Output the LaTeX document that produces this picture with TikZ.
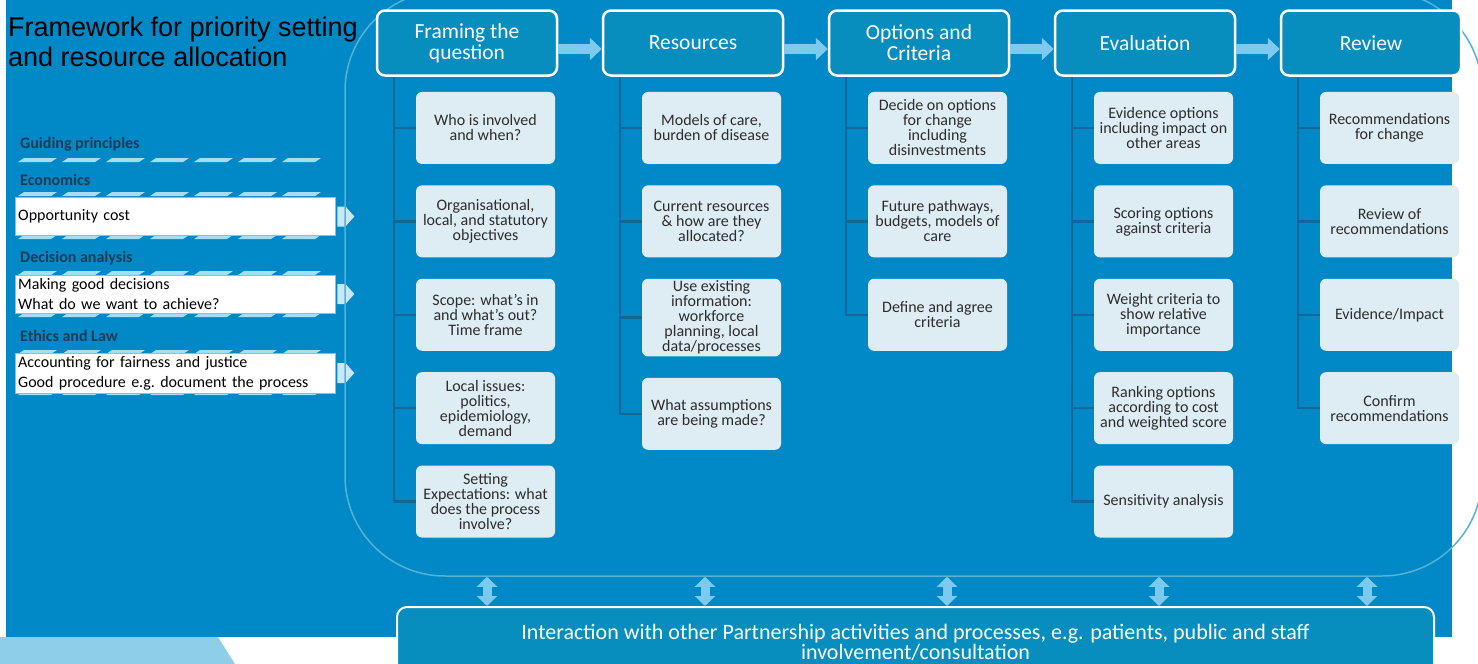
\documentclass[tikz,border=0pt]{standalone}
\usepackage{fontspec}
\setmainfont{Carlito}
\newfontfamily\titlefont{Liberation Sans}
\usetikzlibrary{positioning,arrows.meta}
\definecolor{bgblue}{RGB}{0,137,198}
\definecolor{headblue}{RGB}{8,142,190}
\definecolor{subfill}{RGB}{222,236,244}
\definecolor{subtext}{RGB}{45,45,45}
\definecolor{treeblue}{RGB}{16,104,152}
\definecolor{arrowblue}{RGB}{125,202,240}
\definecolor{frameline}{RGB}{85,178,215}
\definecolor{labelink}{RGB}{28,58,86}
\definecolor{paleblue}{RGB}{142,206,232}
\definecolor{dashblue}{RGB}{165,221,245}
\tikzset{
  header/.style={draw=white, line width=2.5pt, fill=headblue, rounded corners=8pt,
    minimum width=180pt, minimum height=65pt, align=center, text=white,
    font=\fontsize{21.5}{21}\selectfont},
  subbox/.style={fill=subfill, rounded corners=6pt, minimum width=139pt,
    minimum height=72pt, align=center, text=subtext, inner sep=2pt,
    font=\fontsize{16}{15}\selectfont},
  flow/.style={arrowblue, line width=10pt, -{Triangle[length=12pt,width=22pt]}},
  updown/.style={arrowblue, line width=9pt,
    {Triangle[length=10pt,width=20pt]}-{Triangle[length=10pt,width=20pt]}},
  tree/.style={treeblue, line width=2.5pt},
  loopframe/.style={draw=frameline, line width=1.5pt, rounded corners=100pt},
  principle/.style={anchor=west, inner sep=0pt, text=labelink,
    font=\bfseries\fontsize{16}{15}\selectfont},
  notebox/.style={draw=gray!60, fill=white, anchor=west, align=left,
    text width=314pt, inner xsep=3pt, minimum height=38pt,
    font=\fontsize{16}{20}\selectfont},
  chevron/.style={fill={rgb,255:red,200;green,232;blue,247}}
}
\begin{document}
\begin{tikzpicture}[x=1pt,y=-1pt]
  \useasboundingbox (0,0) rectangle (1478,664);
  \fill[bgblue] (6,0) rectangle (1452,637);
  \fill[paleblue] (0,637) -- (218,637) -- (235,664) -- (0,664) -- cycle;

  \node[anchor=north west, align=left, inner sep=0pt,
    font=\titlefont\fontsize{27}{30}\selectfont] (title) at (8,17)
    {Framework for priority setting\\and resource allocation};

  \node[principle] (guide) at (20,144) {Guiding principles};
  \node[principle] (econ) at (20,180) {Economics};
  \node[principle] (decn) at (20,258) {Decision analysis};
  \node[principle] (ethic) at (20,336) {Ethics and Law};
  \foreach \y in {160,194,237,273,315,352,393}
    \foreach \i in {0,...,6}
      \fill[dashblue] ({18+44*\i},\y+2) -- ++(33,0) -- ++(6,-4) -- ++(-33,0) -- cycle;
  \node[notebox] (opp) at (15,216.5) {Opportunity cost};
  \node[notebox] (good) at (15,294) {Making good decisions\\What do we want to achieve?};
  \node[notebox] (fair) at (15,373) {Accounting for fairness and justice\\Good procedure e.g.\ document the process};
  \foreach \b in {opp,good,fair}
    \fill[chevron] ([xshift=2pt]\b.east) ++(0,-10) -- ++(8,0) -- ++(9,10) -- ++(-9,10) -- ++(-8,0) -- cycle;

  \node[loopframe, minimum width=1137pt, minimum height=585pt] (loop) at (913.5,283.5) {};

  \node[header] (qn) at (467,43) {Framing the\\question};
  \node[header, right=43.5pt of qn] (res) {Resources};
  \node[header, right=43.5pt of res] (opt) {Options and\\Criteria};
  \node[header, right=43.5pt of opt] (evl) {Evaluation};
  \node[header, right=43.5pt of evl] (rev) {Review};
  \draw[flow] ([yshift=-6pt]qn.east) -- ([yshift=-6pt]res.west);
  \draw[flow] ([yshift=-6pt]res.east) -- ([yshift=-6pt]opt.west);
  \draw[flow] ([yshift=-6pt]opt.east) -- ([yshift=-6pt]evl.west);
  \draw[flow] ([yshift=-6pt]evl.east) -- ([yshift=-6pt]rev.west);

  \node[subbox, below=15pt of qn, xshift=18.5pt] (qn1) {Who is involved\\and when?};
  \node[subbox, below=21pt of qn1] (qn2) {Organisational,\\local, and statutory\\objectives};
  \node[subbox, below=21pt of qn2] (qn3) {Scope: what’s in\\and what’s out?\\Time frame};
  \node[subbox, below=21pt of qn3] (qn4) {Local issues:\\politics,\\epidemiology,\\demand};
  \node[subbox, below=21pt of qn4] (qn5) {Setting\\Expectations: what\\does the process\\involve?};

  \node[subbox, below=15pt of res, xshift=18.5pt] (res1) {Models of care,\\burden of disease};
  \node[subbox, below=21pt of res1] (res2) {Current resources\\\& how are they\\allocated?};
  \node[subbox, below=21pt of res2] (res3) {Use existing\\information:\\workforce\\planning, local\\data/processes};
  \node[subbox, below=21pt of res3] (res4) {What assumptions\\are being made?};

  \node[subbox, below=15pt of opt, xshift=18.5pt] (opt1) {Decide on options\\for change\\including\\disinvestments};
  \node[subbox, below=21pt of opt1] (opt2) {Future pathways,\\budgets, models of\\care};
  \node[subbox, below=21pt of opt2] (opt3) {Define and agree\\criteria};

  \node[subbox, below=15pt of evl, xshift=18.5pt] (evl1) {Evidence options\\including impact on\\other areas};
  \node[subbox, below=21pt of evl1] (evl2) {Scoring options\\against criteria};
  \node[subbox, below=21pt of evl2] (evl3) {Weight criteria to\\show relative\\importance};
  \node[subbox, below=21pt of evl3] (evl4) {Ranking options\\according to cost\\and weighted score};
  \node[subbox, below=21pt of evl4] (evl5) {Sensitivity analysis};

  \node[subbox, below=15pt of rev, xshift=18.5pt] (rev1) {Recommendations\\for change};
  \node[subbox, below=21pt of rev1] (rev2) {Review of\\recommendations};
  \node[subbox, below=21pt of rev2] (rev3) {Evidence/Impact};
  \node[subbox, below=21pt of rev3] (rev4) {Confirm\\recommendations};

  \foreach \h/\n in {qn/5,res/4,opt/3,evl/5,rev/4} {
    \coordinate (\h-t) at ([xshift=18pt]\h.south west);
    \draw[tree] (\h-t) |- (\h\n.west);
    \foreach \i in {1,...,\n}
      \draw[tree] (\h-t |- \h\i.west) -- (\h\i.west);
  }

  \node[header, draw=white, line width=2pt, rounded corners=10pt, minimum width=1037pt,
    minimum height=70pt, font=\fontsize{22}{20}\selectfont] (inter) at (915.5,642)
    {Interaction with other Partnership activities and processes, e.g. patients, public and staff\\involvement/consultation};

  \foreach \x [count=\k] in {487,705,947,1159,1367} {
    \coordinate (up\k) at (\x,0);
    \draw[updown] (up\k |- loop.south) -- (up\k |- inter.north);
  }
\end{tikzpicture}
\end{document}
